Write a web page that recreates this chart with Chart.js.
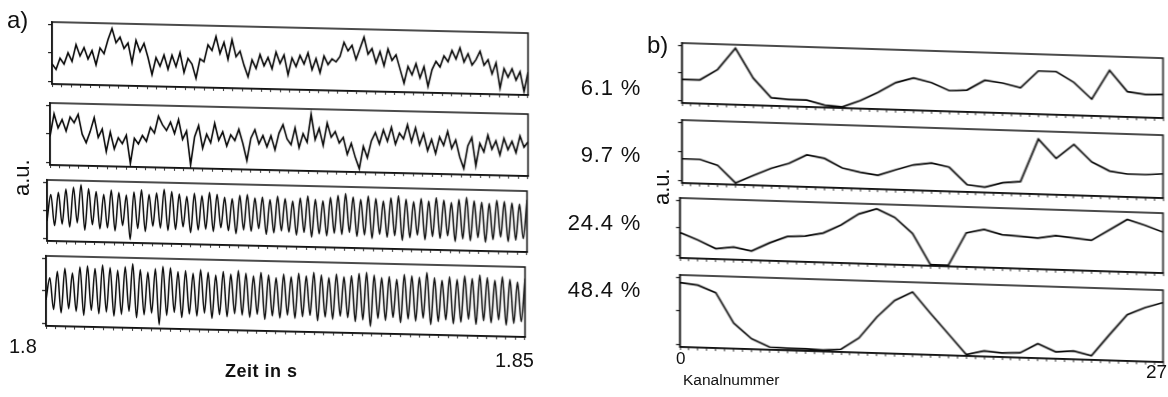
<!DOCTYPE html>
<html><head><meta charset="utf-8">
<script src="https://cdn.jsdelivr.net/npm/chart.js@4"></script>
<style>
body{margin:0;background:#fff;width:1168px;height:397px;overflow:hidden;font-family:"Liberation Sans",Arial,sans-serif;color:#111}
.col{position:absolute;left:0;top:0;width:1168px;height:397px}
.pan{position:absolute}
.lbl{position:absolute;white-space:nowrap;line-height:1}
</style></head><body>
<div id="colA" class="col" style="transform:skewY(1.33deg);transform-origin:50px 0"></div>
<div id="colB" class="col" style="transform:skewY(1.8deg);transform-origin:681px 0"></div>
<div id="labels"></div>
<script>
// ---- data ----
const timeLabels = ['1.8', '1.85'];
const timeRange = [1.8, 1.85];
const channelLabels = ['0', '27'];
const percentLabels = ['6.1 %', '9.7 %', '24.4 %', '48.4 %'];

// a) time traces (a.u., 0..100)
const signal61 = [30,20,40,30,50,35,65,45,60,40,55,30,60,50,75,95,70,80,60,70,35,75,55,70,45,15,45,30,50,25,50,30,55,20,45,35,10,45,40,70,60,85,55,75,45,80,50,60,35,15,45,30,55,35,50,30,60,40,55,20,
 50,35,55,40,60,30,50,25,55,40,50,45,55,80,65,75,50,70,90,60,70,45,65,40,70,50,60,35,10,40,25,45,20,40,5,35,50,40,60,50,70,55,75,50,65,45,55,70,45,55,30,50,5,40,25,40,20,35,0,35];
const signal97 = [45,85,60,75,55,80,70,85,50,35,55,80,45,60,20,55,25,45,35,50,0,45,35,50,40,65,55,85,70,60,75,55,80,45,60,0,50,70,30,55,40,75,45,60,35,55,45,65,40,10,50,65,40,55,35,55,30,60,75,50,
 40,70,35,60,45,95,50,70,40,80,55,65,45,55,25,45,20,0,40,20,50,65,45,70,50,75,45,65,55,80,50,75,45,65,35,55,30,60,45,70,40,55,25,5,45,60,10,50,35,65,40,55,30,60,40,55,35,65,45,55];
const peaks244 = [78,82,88,92,97,90,85,80,88,84,80,86,90,82,85,92,88,84,80,86,82,88,85,80,78,84,86,80,82,78,84,80,76,
 82,86,80,78,84,88,92,86,82,88,84,80,86,90,84,80,86,82,88,84,80,86,90,84,82,80,86,84,82,80,88];
const troughs244 = [30,22,25,20,28,15,25,18,20,15,25,0,20,15,25,22,18,20,25,15,20,22,18,25,20,15,22,20,25,15,18,22,20,
 15,20,12,18,15,20,18,22,15,18,12,20,15,18,10,15,20,12,18,15,20,10,15,12,18,10,15,20,12,15,18];
const peaks484 = [70,80,85,78,88,90,86,92,88,84,90,95,86,82,88,92,90,84,86,82,88,84,80,86,82,88,84,80,86,82,78,84,80,
 86,82,88,84,80,86,82,84,88,90,86,82,84,80,88,86,84,92,84,80,86,82,88,84,90,86,82,88,84,80,86];
const troughs484 = [35,20,15,22,18,12,20,15,18,12,15,20,10,15,18,0,15,20,12,18,15,20,12,18,15,20,18,15,20,12,18,15,20,
 15,18,20,12,18,15,20,18,12,15,5,18,15,20,12,18,15,20,10,15,18,12,15,20,12,18,15,20,12,15,18];

// b) spatial structures over channel 0..27 (a.u., 0..1)
const mode61  = [0.39,0.39,0.58,0.96,0.45,0.12,0.10,0.10,0.02,0.00,0.12,0.27,0.45,0.54,0.47,0.34,0.36,0.54,0.50,0.43,0.73,0.73,0.55,0.27,0.78,0.42,0.38,0.39];
const mode97  = [0.38,0.38,0.29,0.01,0.14,0.27,0.36,0.51,0.46,0.31,0.25,0.21,0.31,0.40,0.44,0.38,0.10,0.07,0.15,0.18,0.89,0.58,0.82,0.54,0.40,0.36,0.36,0.38];
const mode244 = [0.42,0.30,0.16,0.20,0.14,0.29,0.41,0.43,0.49,0.64,0.84,0.94,0.80,0.53,0.00,0.00,0.57,0.64,0.56,0.54,0.52,0.57,0.54,0.51,0.70,0.89,0.80,0.69];
const mode484 = [0.91,0.88,0.78,0.35,0.13,0.02,0.01,0.01,0.00,0.02,0.19,0.50,0.75,0.88,0.58,0.29,0.00,0.06,0.04,0.05,0.19,0.08,0.10,0.04,0.35,0.65,0.76,0.84];

// ---- helpers ----
function timePoints(arr) {
  const n = arr.length;
  return arr.map((v, i) => ({x: timeRange[0] + (timeRange[1] - timeRange[0]) * i / (n - 1), y: v}));
}
function oscPoints(peaks, troughs) {
  const seq = [];
  for (let i = 0; i < peaks.length; i++) { seq.push(troughs[i]); seq.push(peaks[i]); }
  return timePoints(seq);
}
function chanPoints(arr) { return arr.map((v, i) => ({x: i, y: v})); }

const frame = {
  id: 'frame',
  afterDraw(c) {
    const a = c.chartArea, g = c.ctx;
    g.save(); g.strokeStyle = '#111'; g.lineWidth = 1.5;
    g.strokeRect(a.left, a.top, a.right - a.left, a.bottom - a.top);
    g.restore();
  }
};

function panel(col, box, points, xr, xStep, yr, smooth, lw) {
  const d = document.createElement('div');
  d.className = 'pan';
  const L = box[0], T = box[1], R = box[2], B = box[3];
  d.style.left = (L - 6) + 'px'; d.style.top = (T - 2) + 'px';
  const w = R - L + 8, h = B - T + 7;
  d.style.width = w + 'px'; d.style.height = h + 'px';
  const cv = document.createElement('canvas');
  cv.width = w; cv.height = h;
  d.appendChild(cv);
  document.getElementById(col).appendChild(d);
  const xt = [];
  for (let v = xr[0]; v <= xr[1] + 1e-9; v += xStep) xt.push({value: v});
  const ymid = (yr[0] + yr[1]) / 2;
  new Chart(cv, {
    type: 'line',
    data: {datasets: [{data: points, borderColor: '#050505', borderWidth: lw, pointRadius: 0,
      tension: 0, cubicInterpolationMode: smooth ? 'monotone' : 'default', fill: false}]},
    options: {
      animation: false, responsive: false, events: [],
      layout: {padding: {top: 2, right: 2, left: 0, bottom: 0}},
      plugins: {legend: {display: false}, tooltip: {enabled: false}},
      scales: {
        x: {type: 'linear', min: xr[0], max: xr[1],
          afterBuildTicks: s => { s.ticks = xt; },
          afterFit: s => { s.height = 5; },
          ticks: {display: false},
          grid: {drawOnChartArea: false, drawTicks: true, tickLength: 3, color: '#333', lineWidth: 1},
          border: {display: true, color: '#111', width: 1.5}},
        y: {type: 'linear', min: yr[0], max: yr[1],
          afterBuildTicks: s => { s.ticks = [{value: yr[0] + (yr[1]-yr[0])*0.04}, {value: ymid}, {value: yr[1] - (yr[1]-yr[0])*0.04}]; },
          afterFit: s => { s.width = 6; },
          ticks: {display: false},
          grid: {drawOnChartArea: false, drawTicks: true, tickLength: 4, color: '#222', lineWidth: 1.2},
          border: {display: true, color: '#111', width: 1.5}}
      }
    },
    plugins: [frame]
  });
}

// a) panels
panel('colA', [52, 22, 528, 84], timePoints(signal61), timeRange, 0.001, [-6, 104], false, 1.6);
panel('colA', [50, 103, 528, 165], timePoints(signal97), timeRange, 0.001, [-6, 104], false, 1.6);
panel('colA', [47, 180, 527, 241], oscPoints(peaks244, troughs244), timeRange, 0.001, [-6, 104], true, 1.5);
panel('colA', [46, 256, 525, 326], oscPoints(peaks484, troughs484), timeRange, 0.001, [-6, 104], true, 1.5);

// b) panels
panel('colB', [682, 43, 1163, 103], chanPoints(mode61), [0, 27], 0.5, [-0.02, 1.02], false, 1.7);
panel('colB', [682, 120, 1163, 183], chanPoints(mode97), [0, 27], 0.5, [-0.02, 1.02], false, 1.7);
panel('colB', [680, 198, 1163, 258], chanPoints(mode244), [0, 27], 0.5, [-0.02, 1.02], false, 1.7);
panel('colB', [680, 275, 1163, 347], chanPoints(mode484), [0, 27], 0.5, [-0.02, 1.02], false, 1.7);

// ---- text ----
const lab = document.getElementById('labels');
function text(t, x, y, size, extra) {
  const e = document.createElement('div');
  e.className = 'lbl'; e.textContent = t;
  e.style.left = x + 'px'; e.style.top = y + 'px'; e.style.fontSize = size + 'px';
  if (extra) Object.assign(e.style, extra);
  lab.appendChild(e);
  return e;
}
text('a)', 7, 8, 24);
text('b)', 647, 33, 24);
const pctY = [77, 144, 212, 279];
percentLabels.forEach((p, i) => text(p, 0, pctY[i], 22, {left: 'auto', right: (1168 - 641) + 'px', letterSpacing: '0.8px'}));
text('a.u.', 0, 163, 22, {transform: 'rotate(-90deg)', transformOrigin: '22px 11px'});
text('a.u.', 640, 172, 22, {transform: 'rotate(-90deg)', transformOrigin: '22px 11px'});
text(timeLabels[0], 9, 336, 20);
text(timeLabels[1], 495, 350, 20);
text('Zeit in s', 225, 362, 18, {fontWeight: 'bold', letterSpacing: '0.5px'});
text(channelLabels[0], 676, 350, 17);
text(channelLabels[1], 1146, 362, 19);
text('Kanalnummer', 683, 372, 15.5);
</script>
</body></html>
